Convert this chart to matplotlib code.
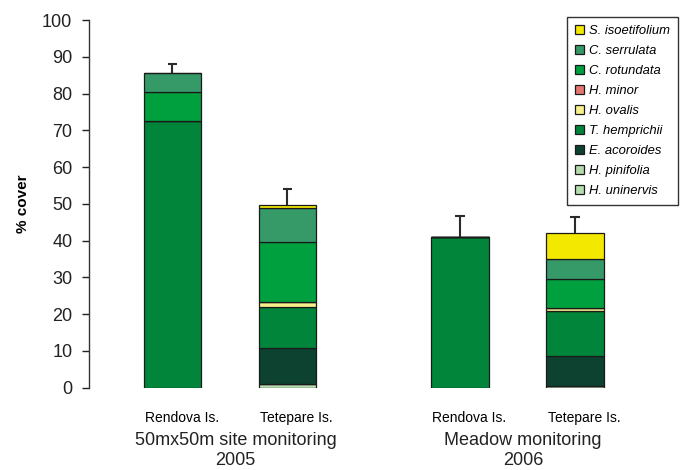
import matplotlib
matplotlib.use('Agg')
import numpy as np
import matplotlib.pyplot as plt
import matplotlib.transforms as mtransforms

plt.rcParams['font.family'] = ['Liberation Sans', 'DejaVu Sans']

sites = ["Rendova Is.", "Tetepare Is.", "Rendova Is.", "Tetepare Is."]
groups = ["50mx50m site monitoring\n2005", "Meadow monitoring\n2006"]

# species in stacking order, bottom to top
species = ["H. uninervis", "H. pinifolia", "E. acoroides", "T. hemprichii",
           "H. ovalis", "H. minor", "C. rotundata", "C. serrulata", "S. isoetifolium"]
colors = ["#b5dcae", "#b3d9ac", "#0e4230", "#00853a",
          "#f7f08c", "#e67670", "#00a03e", "#359a68", "#f3e900"]

# % cover per species, one value per site (same order as sites)
h_uninervis = [0.0, 1.0, 0.0, 0.5]
h_pinifolia = [0.0, 0.0, 0.0, 0.0]
e_acoroides = [0.0, 9.8, 0.0, 8.2]
t_hemprichii = [72.6, 11.2, 40.9, 12.3]
h_ovalis = [0.0, 1.4, 0.0, 0.8]
h_minor = [0.0, 0.0, 0.0, 0.0]
c_rotundata = [8.0, 16.2, 0.0, 7.9]
c_serrulata = [5.0, 9.4, 0.0, 5.3]
s_isoetifolium = [0.0, 0.6, 0.0, 7.2]
std_err = [2.5, 4.5, 5.8, 4.2]

layers = [h_uninervis, h_pinifolia, e_acoroides, t_hemprichii, h_ovalis,
          h_minor, c_rotundata, c_serrulata, s_isoetifolium]

x = np.array([0.0, 1.0, 2.5, 3.5])

fig = plt.figure(figsize=(6.84, 4.70), dpi=100)
ax = fig.add_axes([0.130, 0.175, 0.835, 0.782])

bottom = np.zeros(len(sites))
handles = []
for name, col, vals in zip(species, colors, layers):
    vals = np.array(vals)
    b = ax.bar(x, vals, width=0.5, bottom=bottom, color=col,
               edgecolor='#1a1a1a', linewidth=0.9, label=name)
    handles.append(b)
    bottom += vals

# upper error bars only: stem plus top cap
top = bottom + np.array(std_err)
ax.vlines(x, bottom, top, color='#2a2a2a', linewidth=1.5, zorder=3)
ax.hlines(top, x - 0.04, x + 0.04, color='#2a2a2a', linewidth=1.5, zorder=3)

ax.set_ylim(0, 100)
ax.set_xlim(-0.726, 4.24)
ax.set_yticks(np.arange(0, 101, 10))
ax.tick_params(axis='y', direction='out', length=5, width=1, pad=7,
               labelsize=13, colors='#222222')
ax.set_xticks([])
for s in ['top', 'right', 'bottom']:
    ax.spines[s].set_visible(False)
ax.spines['left'].set_color('#333333')
ax.spines['left'].set_linewidth(1)

ax.set_ylabel("% cover", fontsize=11, fontweight='bold', labelpad=9)

trans = mtransforms.blended_transform_factory(ax.transData, ax.transAxes)
for xi, s in zip(x, sites):
    ax.text(xi + 0.08, -0.083, s, transform=trans, ha='center', va='center',
            fontsize=10, color='#000000')
for gx, g in zip([x[:2].mean() + 0.05, x[2:].mean() + 0.05], groups):
    ax.text(gx, -0.171, g, transform=trans, ha='center', va='center',
            fontsize=13, color='#222222', linespacing=1.22)

leg = fig.legend(handles[::-1], species[::-1], loc='upper right',
                 bbox_to_anchor=(0.991, 0.964), borderaxespad=0,
                 prop={'size': 9.4, 'style': 'italic'}, handlelength=0.7,
                 handleheight=0.7, handletextpad=0.35, labelspacing=0.6,
                 borderpad=0.6, fancybox=False, framealpha=1)
leg.get_frame().set_edgecolor('#333333')
leg.get_frame().set_linewidth(1)

fig.savefig("out.png", dpi=100)
